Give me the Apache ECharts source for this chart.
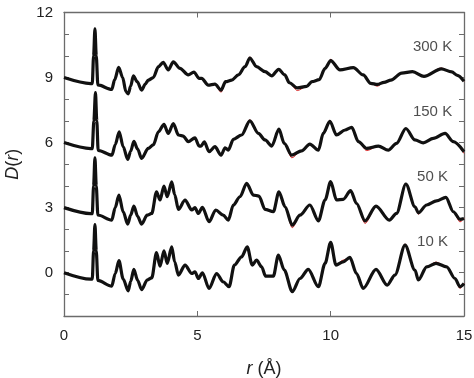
<!DOCTYPE html>
<html>
<head>
<meta charset="utf-8">
<script src="https://cdn.jsdelivr.net/npm/echarts@6/dist/echarts.min.js"></script>
<style>
  html, body { margin: 0; padding: 0; background: #fff; }
  #chart { width: 474px; height: 378px; }
</style>
</head>
<body>
<div id="chart"></div>
<script>
// temperatures, their vertical offsets and tick labels
const temps = ['10 K', '50 K', '150 K', '300 K']
const offsets = [0, 3, 6, 9]
const xTicks = [0, 5, 10, 15]
const yTicks = [0, 3, 6, 9, 12]

const d10 = [[0, 0.0], [1.0, -0.3], [1.06, -0.3], [1.11, 1.0], [1.16, 2.22], [1.21, 1.0], [1.27, -0.36], [1.79, -0.62], [1.92, -0.05], [2.06, 0.55], [2.22, -0.3], [2.41, -0.84], [2.5, -0.4], [2.62, 0.15], [2.76, -0.35], [2.91, -0.78], [3.12, -0.34], [3.29, -0.24], [3.47, 0.92], [3.6, 0.3], [3.75, 1.01], [3.87, 0.43], [4.04, 1.19], [4.15, 0.5], [4.29, -0.11], [4.54, 0.35], [4.79, -0.04], [4.91, 0.04], [5.04, -0.27], [5.19, -0.01], [5.44, -0.73], [5.72, -0.04], [5.97, -0.42], [6.19, -0.65], [6.39, 0.35], [6.66, 0.73], [6.87, 1.19], [7.06, 0.35], [7.22, 0.58], [7.41, 0.27], [7.56, -0.16], [7.85, -0.16], [8.04, 0.81], [8.26, 0.12], [8.56, -0.88], [8.85, -0.27], [9.16, 0.15], [9.54, -0.65], [9.79, 0.43], [10.0, 1.4], [10.2, 0.35], [10.47, 0.5], [10.72, 0.7], [10.97, -0.04], [11.22, -0.73], [11.7, 0.15], [12.12, -0.58], [12.41, -0.11], [12.79, 1.27], [13.16, 0.12], [13.29, -0.34], [13.6, 0.27], [13.95, 0.43], [14.35, 0.27], [14.66, -0.27], [14.85, -0.65], [15.0, -0.5]]
const d50 = [[0, 3.0], [1.0, 2.72], [1.06, 2.72], [1.11, 4.0], [1.16, 5.3], [1.21, 4.0], [1.27, 2.66], [1.79, 2.42], [1.92, 3.0], [2.06, 3.58], [2.22, 2.8], [2.39, 2.24], [2.5, 2.65], [2.62, 3.07], [2.76, 2.6], [2.91, 2.24], [3.12, 2.65], [3.29, 2.73], [3.47, 3.73], [3.6, 3.35], [3.75, 3.99], [3.87, 3.5], [4.04, 4.19], [4.15, 3.6], [4.29, 2.92], [4.54, 3.35], [4.79, 2.89], [4.91, 3.0], [5.04, 2.73], [5.19, 3.01], [5.44, 2.35], [5.69, 2.89], [5.97, 2.65], [6.16, 2.42], [6.35, 3.12], [6.6, 3.5], [6.85, 4.12], [7.1, 3.58], [7.31, 3.53], [7.54, 2.92], [7.85, 2.81], [8.06, 3.73], [8.29, 3.04], [8.56, 2.19], [8.85, 2.65], [9.22, 3.12], [9.54, 2.39], [9.79, 3.35], [10.0, 4.2], [10.22, 3.35], [10.47, 3.38], [10.75, 3.78], [10.97, 3.19], [11.29, 2.39], [11.7, 3.07], [12.2, 2.42], [12.47, 2.73], [12.82, 4.09], [13.16, 3.04], [13.29, 2.76], [13.6, 3.12], [13.97, 3.31], [14.32, 3.47], [14.6, 2.81], [14.85, 2.46], [15.0, 2.5]]
const d150 = [[0, 6.0], [1.0, 5.72], [1.06, 5.72], [1.12, 7.0], [1.18, 8.3], [1.23, 7.0], [1.28, 5.64], [1.8, 5.42], [1.92, 5.9], [2.07, 6.5], [2.22, 5.8], [2.39, 5.22], [2.5, 5.6], [2.62, 6.06], [2.76, 5.7], [2.91, 5.27], [3.16, 5.73], [3.35, 5.89], [3.54, 6.5], [3.75, 6.84], [3.91, 6.42], [4.1, 6.88], [4.29, 6.35], [4.47, 6.3], [4.66, 6.04], [4.91, 6.22], [5.07, 5.84], [5.14, 5.84], [5.26, 6.03], [5.44, 5.58], [5.66, 5.81], [5.89, 5.42], [6.04, 5.76], [6.16, 5.65], [6.35, 6.15], [6.66, 6.35], [6.97, 7.0], [7.29, 6.42], [7.54, 6.12], [7.79, 5.84], [8.06, 6.62], [8.26, 5.96], [8.54, 5.42], [8.91, 5.62], [9.22, 5.93], [9.54, 5.65], [9.72, 6.42], [9.97, 6.98], [10.22, 6.35], [10.54, 6.58], [10.79, 6.7], [11.04, 6.04], [11.35, 5.73], [11.79, 5.84], [12.16, 5.65], [12.47, 5.96], [12.82, 6.65], [13.16, 6.12], [13.47, 5.99], [13.85, 6.19], [14.29, 6.42], [14.6, 6.04], [15.0, 5.58]]
const d300 = [[0, 9.0], [1.0, 8.72], [1.06, 8.72], [1.11, 10.0], [1.16, 11.25], [1.21, 10.0], [1.27, 8.66], [1.79, 8.45], [1.9, 8.9], [2.05, 9.47], [2.2, 9.0], [2.32, 8.35], [2.41, 8.25], [2.5, 8.6], [2.6, 9.08], [2.75, 8.8], [2.91, 8.42], [3.05, 8.7], [3.16, 8.88], [3.35, 9.0], [3.54, 9.5], [3.72, 9.7], [3.91, 9.35], [4.1, 9.72], [4.35, 9.42], [4.66, 9.12], [4.87, 9.25], [5.07, 8.96], [5.16, 8.96], [5.41, 8.65], [5.66, 8.7], [5.89, 8.42], [6.06, 8.81], [6.29, 8.88], [6.54, 9.12], [6.79, 9.5], [6.97, 9.9], [7.22, 9.5], [7.54, 9.27], [7.79, 9.08], [8.05, 9.38], [8.28, 9.12], [8.45, 8.76], [8.75, 8.52], [9.1, 8.59], [9.3, 8.81], [9.57, 8.9], [9.79, 9.42], [10.0, 9.78], [10.35, 9.35], [10.85, 9.46], [11.22, 9.12], [11.5, 8.73], [11.75, 8.68], [12.0, 8.78], [12.26, 8.88], [12.66, 9.2], [13.07, 9.27], [13.5, 9.05], [14.15, 9.4], [14.54, 9.26], [14.75, 9.1], [15.0, 8.83]]

// where the fit (red) misses the data: [r, fit - data]
const dev10 = [[10.47, 0.08], [12.79, 0.05], [13.95, 0.06], [14.85, -0.08]]
const dev50 = [[8.56, -0.12], [11.29, -0.12], [13.29, -0.06], [14.85, -0.12]]
const dev150 = [[6.97, 0.05], [8.54, -0.12], [9.97, 0.05], [11.35, -0.1], [15.0, -0.08]]
const dev300 = [[5.89, -0.1], [6.97, 0.05], [8.75, -0.12], [10.0, 0.06], [11.75, -0.08], [14.15, 0.04]]

const measured = [d10, d50, d150, d300]
const deviations = [dev10, dev50, dev150, dev300]

const font = 'Liberation Sans, Arial, Helvetica, sans-serif'
const axisColor = '#6b6b6b'

function fitOf(data, dev) {
  return data.map(p => {
    const hit = dev.find(d => d[0] === p[0])
    return [p[0], hit ? p[1] + hit[1] : p[1]]
  })
}

const series = []
measured.forEach((data, i) => {
  series.push({
    name: temps[i] + ' fit',
    type: 'line',
    data: fitOf(data, deviations[i]),
    smooth: 0.3,
    smoothMonotone: 'x',
    showSymbol: false,
    lineStyle: { color: '#d62020', width: 1 },
    z: 2
  })
  series.push({
    name: temps[i],
    type: 'line',
    data: data,
    smooth: 0.3,
    smoothMonotone: 'x',
    showSymbol: false,
    lineStyle: { color: '#111', width: 3.2 },
    z: 3
  })
})

// temperature labels, placed above each curve near the right edge
series.push({
  type: 'scatter',
  symbolSize: 0,
  data: offsets.map((o, i) => ({ value: [13.82, o + 1.4], name: temps[i] })),
  label: {
    show: true,
    position: 'inside',
    formatter: p => p.name,
    color: '#222',
    fontSize: 15,
    fontFamily: font
  },
  silent: true,
  z: 4
})

const chart = echarts.init(document.getElementById('chart'), null, { renderer: 'canvas' })

const tickStyle = { show: true, inside: true, length: 5, lineStyle: { color: axisColor, width: 1 } }
const lineStyle = { show: true, onZero: false, lineStyle: { color: axisColor, width: 1.3 } }
const nameStyle = {
  color: '#222',
  fontSize: 18,
  fontFamily: font,
  rich: { i: { fontStyle: 'italic', fontSize: 18, fontFamily: font, color: '#222' } }
}

chart.setOption({
  animation: false,
  grid: { left: 64, right: 10, top: 12.5, bottom: 62, outerBoundsMode: 'none' },
  xAxis: [{
    type: 'value',
    min: 0,
    max: 15,
    interval: 5,
    name: '{i|r} (Å)',
    nameLocation: 'middle',
    nameGap: 44,
    nameTextStyle: nameStyle,
    axisLine: lineStyle,
    axisTick: tickStyle,
    axisLabel: {
      color: '#222',
      fontSize: 15,
      fontFamily: font,
      margin: 12,
      formatter: v => (xTicks.includes(v) ? String(v) : '')
    },
    splitLine: { show: false }
  }, {
    type: 'value',
    position: 'top',
    min: 0,
    max: 15,
    interval: 5,
    axisLine: lineStyle,
    axisTick: tickStyle,
    axisLabel: { show: false },
    splitLine: { show: false }
  }],
  yAxis: [{
    type: 'value',
    min: -2,
    max: 12,
    interval: 1,
    name: '{i|D}({i|r})',
    nameLocation: 'middle',
    nameGap: 42,
    nameRotate: 90,
    nameTextStyle: nameStyle,
    axisLine: lineStyle,
    axisTick: tickStyle,
    axisLabel: {
      color: '#222',
      fontSize: 15,
      fontFamily: font,
      margin: 11,
      formatter: v => (yTicks.includes(v) ? String(v) : '')
    },
    splitLine: { show: false }
  }, {
    type: 'value',
    position: 'right',
    min: -2,
    max: 12,
    interval: 1,
    axisLine: lineStyle,
    axisTick: tickStyle,
    axisLabel: { show: false },
    splitLine: { show: false }
  }],
  series: series
})
</script>
</body>
</html>
